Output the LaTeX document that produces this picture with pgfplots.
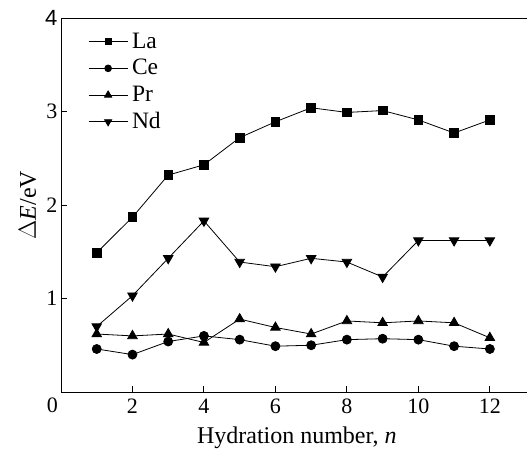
\documentclass[border=0pt]{standalone}
\usepackage{fontspec}
\setmainfont{Liberation Serif}
\setsansfont{Liberation Sans}
\usepackage{pgfplots}
\pgfplotsset{compat=1.18}
\begin{document}
\begin{tikzpicture}[font=\fontsize{23.5}{27}\selectfont]
\begin{axis}[
  name=a,
  scale only axis,
  width=466pt, height=374pt,
  xmin=0, xmax=13.04, ymin=0, ymax=4,
  axis x line=box, axis y line=left,
  axis line style={-, line width=0.9pt},
  xtick={2,4,6,8,10,12},
  ytick={1,2,3,4},
  yticklabels={1,2,3,{\sffamily 4}},
  xtick pos=lower, ytick pos=left,
  tick align=inside,
  major tick length=6pt,
  tick style={line width=0.9pt, black},
  /pgf/number format/assume math mode=true,
  ticklabel style={font=\fontsize{22}{26}\selectfont},
  xlabel={Hydration number, \textit{n}},
  ylabel={$\Delta$\textit{E}/eV},
  label style={font=\fontsize{24}{28}\selectfont},
  xlabel style={at={([yshift=-46pt]axis cs:6.6,0)}, anchor=center},
  ylabel style={at={([xshift=-33.5pt]axis cs:0,2.0)}, anchor=center},
  xticklabel style={yshift=-3pt},
  clip=false,
  legend cell align=left,
  legend style={draw=none, fill=none, at={(axis description cs:0.058,0.973)}, anchor=north west, row sep=0pt, inner sep=0pt, font=\fontsize{23.5}{27}\selectfont, nodes={inner ysep=0pt, inner xsep=4pt, text height=20pt, text depth=6.7pt}},
  legend image code/.code={\draw[mark repeat=2,mark phase=2, /tikz/every mark/.append style={scale=0.75}] plot coordinates {(0pt,0pt) (19.5pt,0pt) (39pt,0pt)};},
]
\addplot[black, line width=0.8pt, mark=square*, mark size=4.3pt, mark options={fill=black, solid}] coordinates {
(1,1.49) (2,1.87) (3,2.32) (4,2.43) (5,2.72) (6,2.89) (7,3.04) (8,2.99) (9,3.01) (10,2.91) (11,2.77) (12,2.91)};
\addlegendentry{La}
\addplot[black, line width=0.8pt, mark=*, mark size=4.5pt, mark options={fill=black, solid}] coordinates {
(1,0.46) (2,0.40) (3,0.54) (4,0.60) (5,0.56) (6,0.49) (7,0.50) (8,0.56) (9,0.57) (10,0.56) (11,0.49) (12,0.46)};
\addlegendentry{Ce}
\addplot[black, line width=0.8pt, mark=triangle*, mark size=5.5pt, mark options={fill=black, solid}] coordinates {
(1,0.62) (2,0.60) (3,0.62) (4,0.53) (5,0.78) (6,0.69) (7,0.62) (8,0.76) (9,0.74) (10,0.76) (11,0.74) (12,0.58)};
\addlegendentry{Pr}
\addplot[black, line width=0.8pt, mark=triangle*, mark size=5.5pt, mark options={fill=black, solid, rotate=180}] coordinates {
(1,0.70) (2,1.03) (3,1.43) (4,1.83) (5,1.39) (6,1.34) (7,1.43) (8,1.39) (9,1.23) (10,1.62) (11,1.62) (12,1.62)};
\addlegendentry{Nd}
\node[anchor=north east, inner sep=0pt, font=\fontsize{22}{26}\selectfont] at (axis cs:0,0) [xshift=-3pt, yshift=-5.5pt] {0};
\end{axis}
\pgfresetboundingbox
\path[use as bounding box] ([shift={(-61pt,-58pt)}]a.south west) rectangle ([shift={(0pt,18pt)}]a.north east);
\end{tikzpicture}
\end{document}
